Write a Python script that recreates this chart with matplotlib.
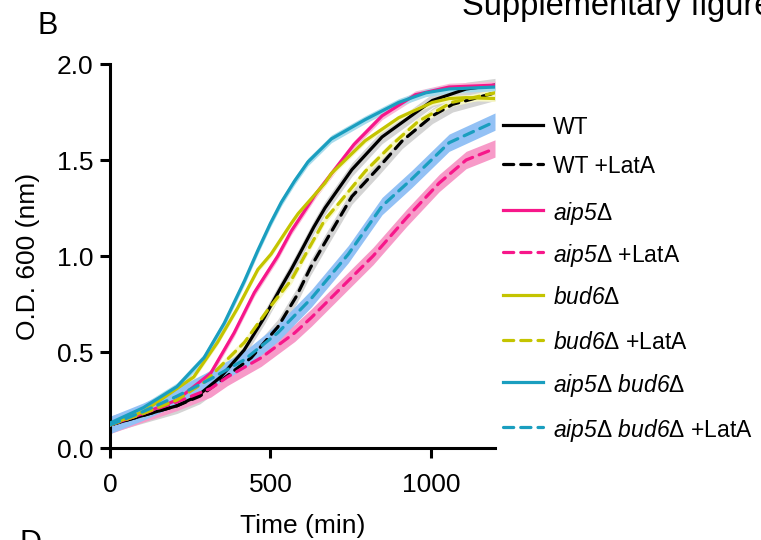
import matplotlib
matplotlib.use("Agg")
import matplotlib.pyplot as plt
from matplotlib.lines import Line2D

plt.rcParams["font.family"] = ["Liberation Sans", "DejaVu Sans"]
# italic gene names, upright delta
plt.rcParams["mathtext.fontset"] = "custom"
plt.rcParams["mathtext.rm"] = "Liberation Sans:italic"
plt.rcParams["mathtext.sf"] = "Liberation Sans"

# growth curves, O.D. 600 vs time (min)
wt_t = [0, 104, 209, 272, 345, 418, 481, 534, 565, 597, 635, 670, 754, 848, 1005, 1110, 1200]
wt_y = [0.12, 0.17, 0.22, 0.27, 0.37, 0.51, 0.68, 0.84, 0.93, 1.03, 1.15, 1.25, 1.45, 1.62, 1.81, 1.87, 1.89]

wtl_t = [0, 104, 209, 280, 345, 440, 523, 581, 625, 670, 754, 837, 911, 1005, 1068, 1200]
wtl_y = [0.12, 0.17, 0.22, 0.27, 0.35, 0.47, 0.63, 0.79, 0.94, 1.07, 1.31, 1.46, 1.60, 1.73, 1.79, 1.85]

aip_t = [0, 104, 209, 314, 387, 450, 523, 565, 640, 700, 760, 848, 952, 1057, 1200]
aip_y = [0.12, 0.18, 0.25, 0.39, 0.60, 0.81, 1.00, 1.13, 1.32, 1.45, 1.58, 1.73, 1.84, 1.88, 1.89]

aipl_t = [0, 104, 209, 314, 366, 471, 576, 628, 700, 820, 925, 1026, 1110, 1200]
aipl_y = [0.12, 0.18, 0.24, 0.31, 0.37, 0.47, 0.60, 0.68, 0.80, 1.00, 1.20, 1.38, 1.50, 1.56]

bud_t = [0, 104, 157, 261, 335, 398, 461, 502, 565, 586, 670, 690, 795, 900, 1005, 1057, 1110, 1200]
bud_y = [0.12, 0.19, 0.25, 0.37, 0.55, 0.73, 0.93, 1.01, 1.17, 1.22, 1.38, 1.43, 1.60, 1.72, 1.80, 1.82, 1.825, 1.82]

budl_t = [0, 104, 209, 300, 335, 419, 492, 565, 670, 711, 795, 879, 960, 1065, 1200]
budl_y = [0.12, 0.18, 0.25, 0.35, 0.41, 0.55, 0.72, 0.875, 1.19, 1.27, 1.44, 1.58, 1.70, 1.80, 1.85]

dbl_t = [0, 104, 209, 293, 356, 419, 461, 500, 534, 575, 617, 690, 795, 900, 984, 1057, 1200]
dbl_y = [0.13, 0.21, 0.32, 0.47, 0.65, 0.87, 1.03, 1.17, 1.28, 1.39, 1.49, 1.61, 1.71, 1.80, 1.85, 1.87, 1.88]

dbll_t = [0, 104, 209, 314, 419, 523, 628, 743, 848, 940, 1057, 1200]
dbll_y = [0.12, 0.19, 0.27, 0.36, 0.46, 0.60, 0.78, 1.01, 1.26, 1.40, 1.59, 1.70]

# approximate half-width of the shaded error band of each curve
err = [0.035, 0.04, 0.02, 0.045, 0.015, 0.02, 0.02, 0.045]

labels = ["WT", "WT +LatA",
          r"$\mathrm{aip5}\mathsf{\Delta}$",
          r"$\mathrm{aip5}\mathsf{\Delta}$ +LatA",
          r"$\mathrm{bud6}\mathsf{\Delta}$",
          r"$\mathrm{bud6}\mathsf{\Delta}$ +LatA",
          r"$\mathrm{aip5}\mathsf{\Delta}$ $\mathrm{bud6}\mathsf{\Delta}$",
          r"$\mathrm{aip5}\mathsf{\Delta}$ $\mathrm{bud6}\mathsf{\Delta}$ +LatA"]

BLACK, PINK, YELLOW, CYAN = "#000000", "#f7178a", "#c4c400", "#1a9ebf"

series = [
    (wt_t, wt_y, BLACK, False, "#d4d4d4"),
    (wtl_t, wtl_y, BLACK, True, "#d4d4d4"),
    (aip_t, aip_y, PINK, False, "#f9b7d6"),
    (aipl_t, aipl_y, PINK, True, "#f79ac8"),
    (bud_t, bud_y, YELLOW, False, "#f8f8c8"),
    (budl_t, budl_y, YELLOW, True, "#f8f8c8"),
    (dbl_t, dbl_y, CYAN, False, "#a8dcec"),
    (dbll_t, dbll_y, CYAN, True, "#93c1f5"),
]
DASH = (3.2, 2.2)
LW = 2.3

fig = plt.figure(figsize=(7.61, 5.40), dpi=100)
ax = fig.add_axes([110 / 761, 1 - 448 / 540, 385 / 761, 384 / 540])

for (t, y, c, dashed, bc), e in zip(series, err):
    lo = [v - e for v in y]
    hi = [v + e for v in y]
    ax.fill_between(t, lo, hi, color=bc, lw=0, zorder=1)

for t, y, c, dashed, bc in series:
    line, = ax.plot(t, y, color=c, lw=LW, zorder=3, solid_joinstyle="round")
    if dashed:
        line.set_dashes(DASH)
        line.set_dash_capstyle("round")

ax.set_xlim(0, 1200)
ax.set_ylim(0, 2.0)
ax.set_xticks([0, 500, 1000])
ax.set_yticks([0.0, 0.5, 1.0, 1.5, 2.0])
ax.set_yticklabels(["0.0", "0.5", "1.0", "1.5", "2.0"])
for s in ["top", "right"]:
    ax.spines[s].set_visible(False)
for s in ["left", "bottom"]:
    ax.spines[s].set_linewidth(2.2)
ax.tick_params(width=2.2, length=7, labelsize=19, pad=5)
ax.tick_params(axis="x", pad=11)
ax.set_xlabel("Time (min)", fontsize=19, labelpad=12)
ax.set_ylabel("O.D. 600 (nm)", fontsize=19, labelpad=12)

# legend drawn row by row, outside the axes on the right
leg_y = [125, 164, 210, 252, 295, 340, 382, 427]
for (t, y, c, dashed, bc), lab, py in zip(series, labels, leg_y):
    yf = 1 - py / 540
    h = Line2D([503 / 761, 543 / 761], [yf, yf], transform=fig.transFigure,
               color=c, lw=LW)
    if dashed:
        h.set_dashes(DASH)
        h.set_dash_capstyle("round")
    fig.add_artist(h)
    fig.text(553 / 761, yf, lab, fontsize=16.5, ha="left", va="center_baseline")

fig.text(38 / 761, 1 - 34 / 540, "B", fontsize=22, ha="left", va="baseline")
fig.text(462 / 761, 1 - 15 / 540, "Supplementary figure", fontsize=23.5,
         ha="left", va="baseline")
fig.text(20 / 761, 1 - 552 / 540, "D", fontsize=22, ha="left", va="baseline")

fig.savefig("out.png", dpi=100)
